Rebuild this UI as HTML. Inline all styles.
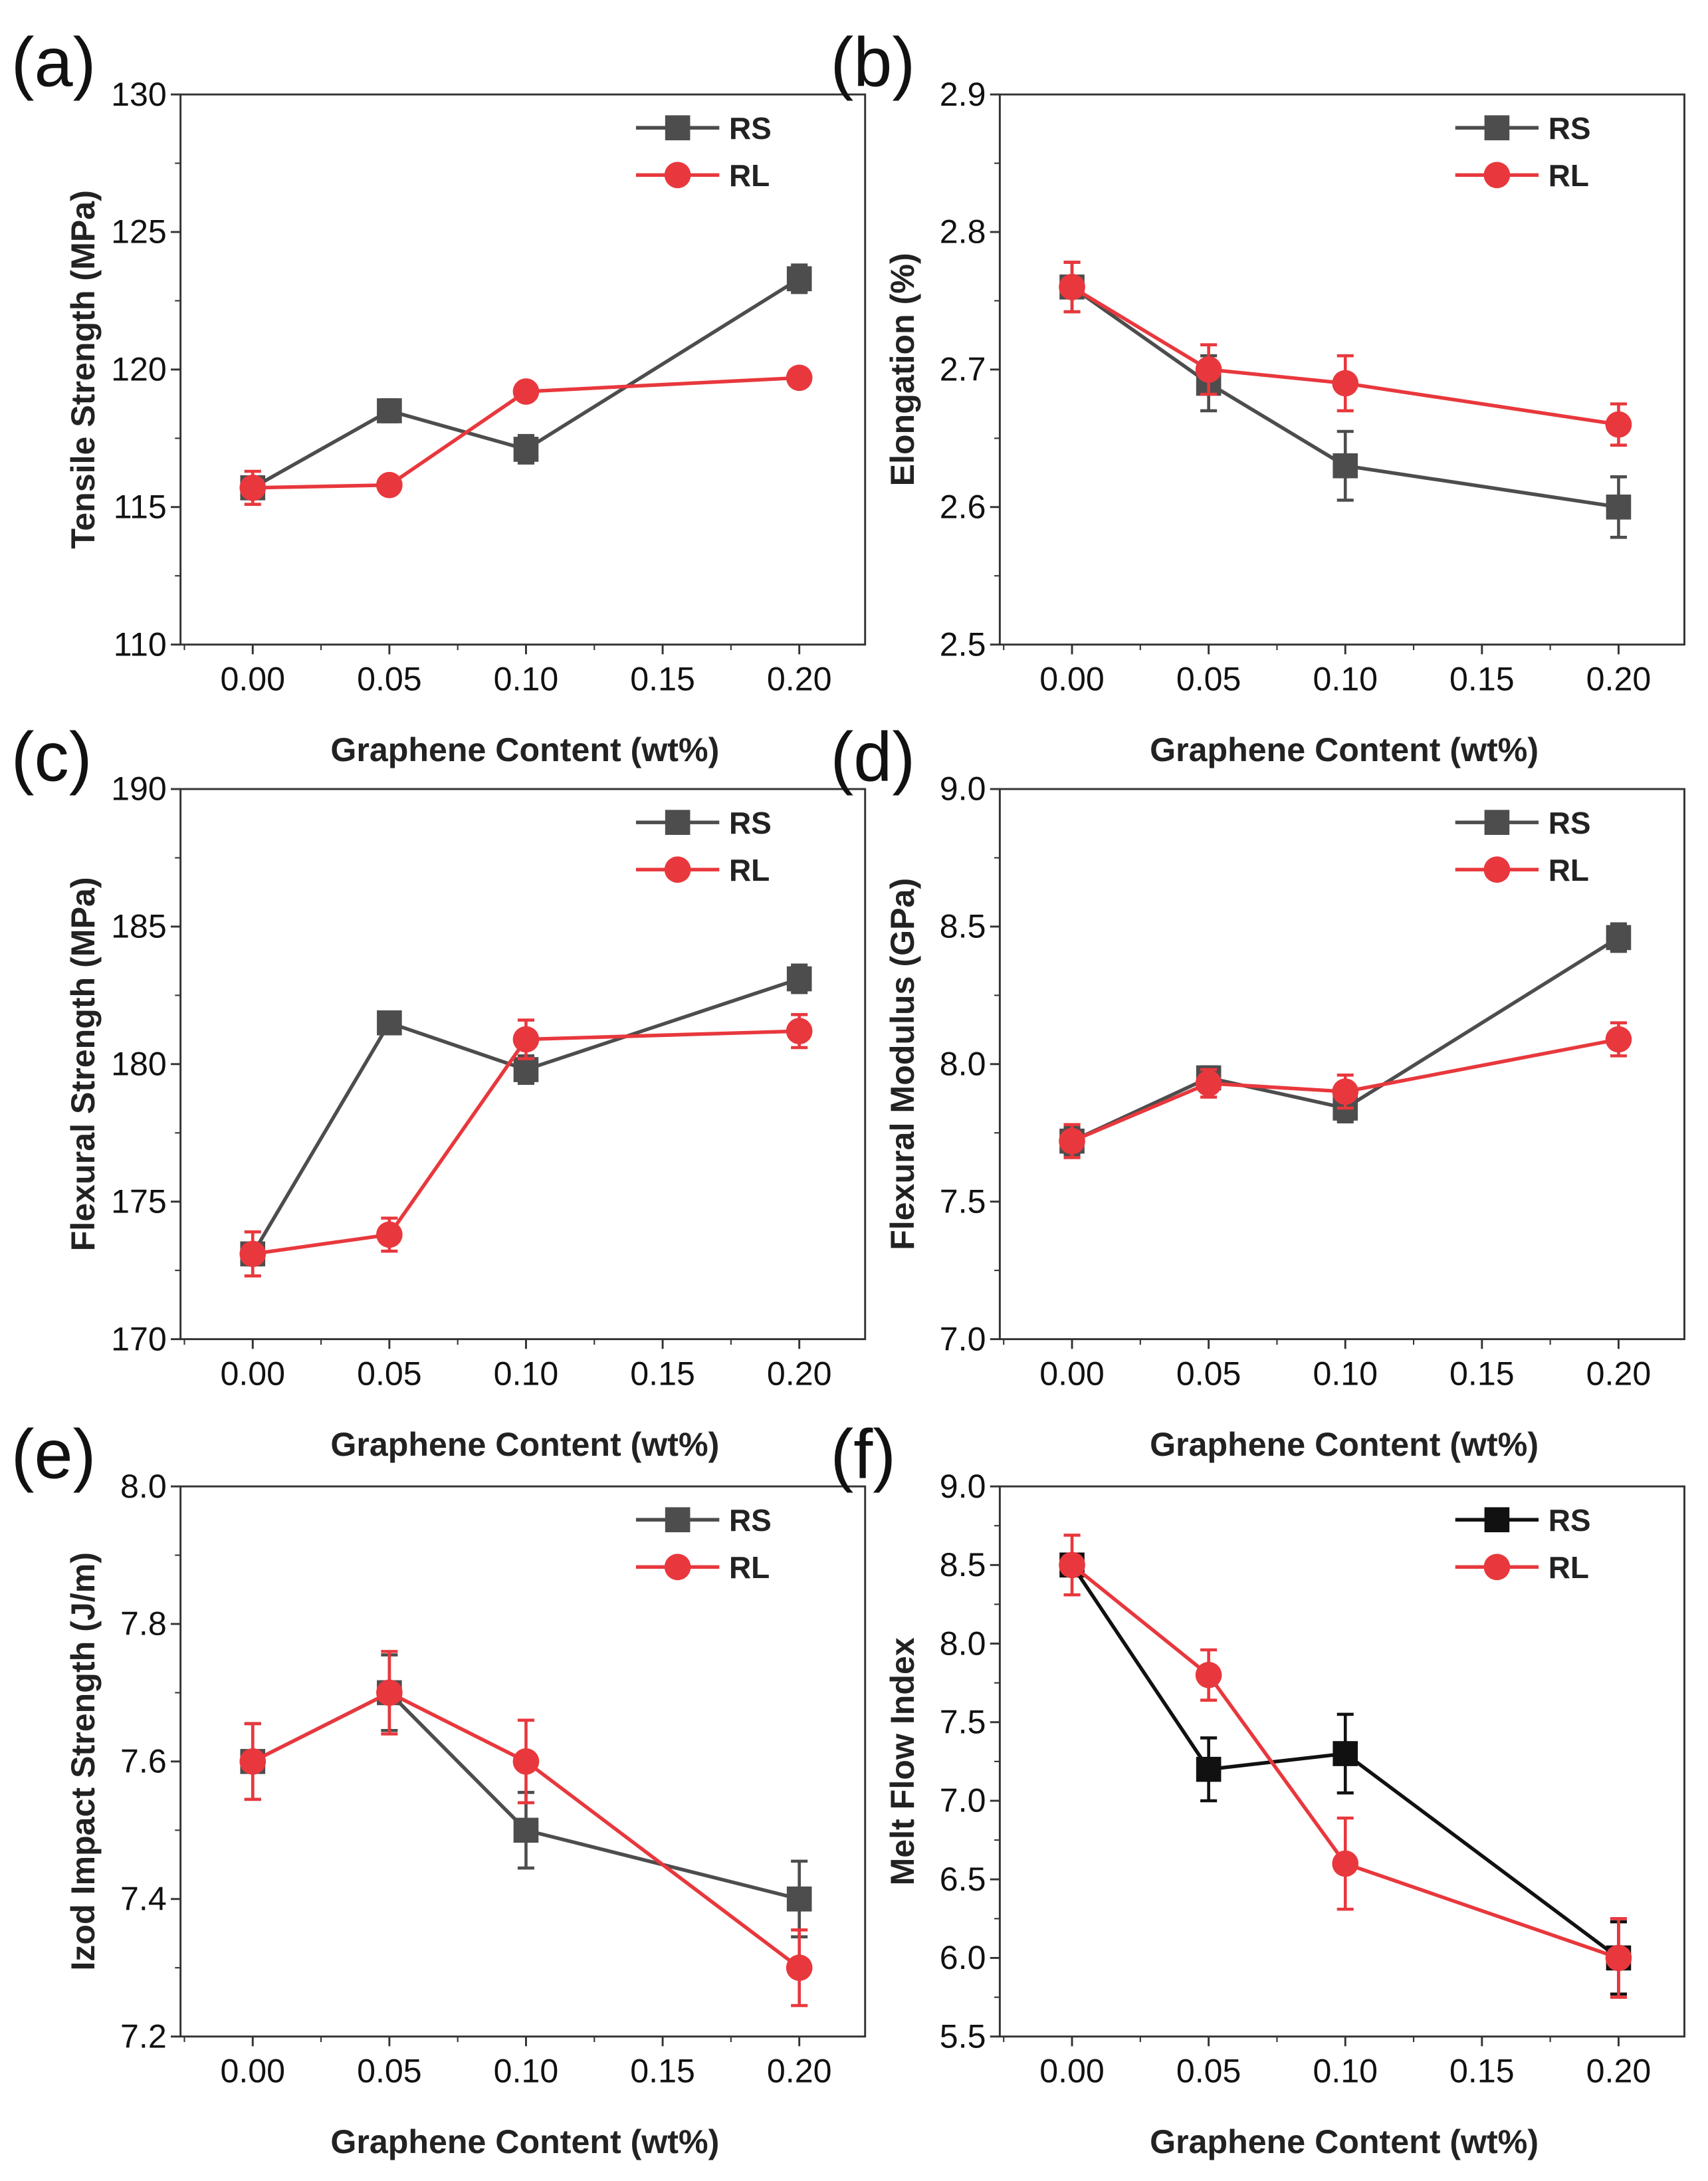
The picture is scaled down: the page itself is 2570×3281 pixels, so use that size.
<!DOCTYPE html>
<html><head><meta charset="utf-8"><style>
html,body{margin:0;padding:0;background:#fff;}
svg{display:block;}
text{font-family:"Liberation Sans",sans-serif;}
</style></head><body>
<svg id="fig" width="2570" height="3281" viewBox="0 0 1230 1570" preserveAspectRatio="none" xmlns="http://www.w3.org/2000/svg"></svg>
<script>
const xCats=[0,0.05,0.10,0.20];
const xTicks=["0.00","0.05","0.10","0.15","0.20"];
const aRS=[115.7,118.5,117.1,123.3], aRSe=[0.4,0.4,0.5,0.5];
const aRL=[115.7,115.8,119.2,119.7], aRLe=[0.6,0.2,0.2,0.2];
const bRS=[2.76,2.69,2.63,2.60], bRSe=[0.018,0.02,0.025,0.022];
const bRL=[2.76,2.70,2.69,2.66], bRLe=[0.018,0.018,0.02,0.015];
const cRS=[173.1,181.5,179.8,183.1], cRSe=[0.4,0.3,0.5,0.5];
const cRL=[173.1,173.8,180.9,181.2], cRLe=[0.8,0.6,0.7,0.6];
const dRS=[7.72,7.95,7.84,8.46], dRSe=[0.05,0.04,0.05,0.05];
const dRL=[7.72,7.93,7.90,8.09], dRLe=[0.06,0.05,0.06,0.06];
const eRS=[7.6,7.7,7.5,7.4], eRSe=[0.055,0.055,0.055,0.055];
const eRL=[7.6,7.7,7.6,7.3], eRLe=[0.055,0.06,0.06,0.055];
const fRS=[8.5,7.2,7.3,6.0], fRSe=[0.05,0.2,0.25,0.23];
const fRL=[8.5,7.8,6.6,6.0], fRLe=[0.19,0.16,0.29,0.25];
const aTicks=["110","115","120","125","130"];
const bTicks=["2.5","2.6","2.7","2.8","2.9"];
const cTicks=["170","175","180","185","190"];
const dTicks=["7.0","7.5","8.0","8.5","9.0"];
const eTicks=["7.2","7.4","7.6","7.8","8.0"];
const fTicks=["5.5","6.0","6.5","7.0","7.5","8.0","8.5","9.0"];

const NS="http://www.w3.org/2000/svg";
const svg=document.getElementById('fig');
function mk(tag,attrs,parent){const e=document.createElementNS(NS,tag);for(const k in attrs)e.setAttribute(k,attrs[k]);(parent||svg).appendChild(e);return e;}

const panels=[
 {id:"a",x0:130,y0:68,ticks:aTicks,rs:aRS,rse:aRSe,rl:aRL,rle:aRLe,title:"Tensile Strength (MPa)",rsColor:"#4d4d4d"},
 {id:"b",x0:720,y0:68,ticks:bTicks,rs:bRS,rse:bRSe,rl:bRL,rle:bRLe,title:"Elongation (%)",rsColor:"#4d4d4d"},
 {id:"c",x0:130,y0:568,ticks:cTicks,rs:cRS,rse:cRSe,rl:cRL,rle:cRLe,title:"Flexural Strength (MPa)",rsColor:"#4d4d4d"},
 {id:"d",x0:720,y0:568,ticks:dTicks,rs:dRS,rse:dRSe,rl:dRL,rle:dRLe,title:"Flexural Modulus (GPa)",rsColor:"#4d4d4d"},
 {id:"e",x0:130,y0:1070,ticks:eTicks,rs:eRS,rse:eRSe,rl:eRL,rle:eRLe,title:"Izod Impact Strength (J/m)",rsColor:"#4d4d4d"},
 {id:"f",x0:720,y0:1070,ticks:fTicks,rs:fRS,rse:fRSe,rl:fRL,rle:fRLe,title:"Melt Flow Index",rsColor:"#111"}
];
const W=493,H=396,RED="#e8383d";
panels.forEach(p=>{
 const g=mk('g',{});
 
 
 const ymin=parseFloat(p.ticks[0]),ymax=parseFloat(p.ticks[p.ticks.length-1]);
 const xs=v=>p.x0+52+(v/0.05)*98.4;
 const ys=v=>p.y0+H-(v-ymin)/(ymax-ymin)*H;
 const lbl=mk('text',{x:p.x0-122,y:p.y0-6,'font-size':50,fill:'#111'},g);lbl.textContent="("+p.id+")";
 
 const fr=mk('rect',{x:p.x0,y:p.y0,width:W,height:H,fill:'none',stroke:'#333','stroke-width':1.4},g);
 
 const n=p.ticks.length;
 p.ticks.forEach((t,i)=>{
  const v=parseFloat(t),y=ys(v);
  mk('line',{x1:p.x0-7,x2:p.x0,y1:y,y2:y,stroke:'#333','stroke-width':1.4},g);
  if(i<n-1){const ym=ys(v+(ymax-ymin)/(n-1)/2);mk('line',{x1:p.x0-4,x2:p.x0,y1:ym,y2:ym,stroke:'#333','stroke-width':1},g);}
  const tx=mk('text',{x:p.x0-10,y:y+8,'font-size':24,'text-anchor':'end',fill:'#111'},g);tx.textContent=t;
  
 });
 xTicks.forEach((t,i)=>{
  const v=parseFloat(t),x=xs(v),yb=p.y0+H;
  mk('line',{x1:x,x2:x,y1:yb,y2:yb+7,stroke:'#333','stroke-width':1.4},g);
  const xm=xs(v+0.025);if(xm<p.x0+W)mk('line',{x1:xm,x2:xm,y1:yb,y2:yb+4,stroke:'#333','stroke-width':1},g);
  const tx=mk('text',{x:x,y:yb+33,'font-size':24,'text-anchor':'middle',fill:'#111'},g);tx.textContent=t;
  
 });
 {const xm=xs(-0.025);mk('line',{x1:xm,x2:xm,y1:p.y0+H,y2:p.y0+H+4,stroke:'#333','stroke-width':1},g);}
 const xt=mk('text',{x:p.x0+248,y:p.y0+H+84,'font-size':24,'font-weight':'bold','text-anchor':'middle',fill:'#222'},g);
 xt.textContent="Graphene Content (wt%)";
 
 const yt=mk('text',{x:0,y:0,'font-size':24,'font-weight':'bold','text-anchor':'middle',fill:'#222',transform:`translate(${p.x0-62},${p.y0+H/2}) rotate(-90)`},g);
 yt.textContent=p.title;
 
 function series(vals,errs,color,shape,name){
  const sg=mk('g',{},g);
  
  mk('polyline',{points:vals.map((v,i)=>xs(xCats[i])+','+ys(v)).join(' '),fill:'none',stroke:color,'stroke-width':2.6},sg);
  vals.forEach((v,i)=>{
   const x=xs(xCats[i]),y=ys(v),y1=ys(v+errs[i]),y2=ys(v-errs[i]);
   const eb=mk('path',{d:`M${x},${y1}V${y2}M${x-6},${y1}H${x+6}M${x-6},${y2}H${x+6}`,stroke:color,'stroke-width':2.2,fill:'none'},sg);
   
   let m;
   if(shape==='sq')m=mk('rect',{x:x-9,y:y-9,width:18,height:18,fill:color},sg);
   else m=mk('circle',{cx:x,cy:y,r:9.5,fill:color},sg);
   
  });
 }
 series(p.rs,p.rse,p.rsColor,'sq','rs');
 series(p.rl,p.rle,RED,'ci','rl');
 const lg=mk('g',{},g);
 
 const lx=p.x0+328,ly1=p.y0+24,ly2=p.y0+58;
 mk('line',{x1:lx,x2:lx+60,y1:ly1,y2:ly1,stroke:p.rsColor,'stroke-width':2.6},lg);
 mk('rect',{x:lx+21,y:ly1-9,width:18,height:18,fill:p.rsColor},lg);
 const t1=mk('text',{x:lx+67,y:ly1+8,'font-size':22,'font-weight':'bold',fill:'#222'},lg);t1.textContent="RS";
 
 mk('line',{x1:lx,x2:lx+60,y1:ly2,y2:ly2,stroke:RED,'stroke-width':2.6},lg);
 mk('circle',{cx:lx+30,cy:ly2,r:9.5,fill:RED},lg);
 const t2=mk('text',{x:lx+67,y:ly2+8,'font-size':22,'font-weight':'bold',fill:'#222'},lg);t2.textContent="RL";
 
});
</script>
</body></html>
